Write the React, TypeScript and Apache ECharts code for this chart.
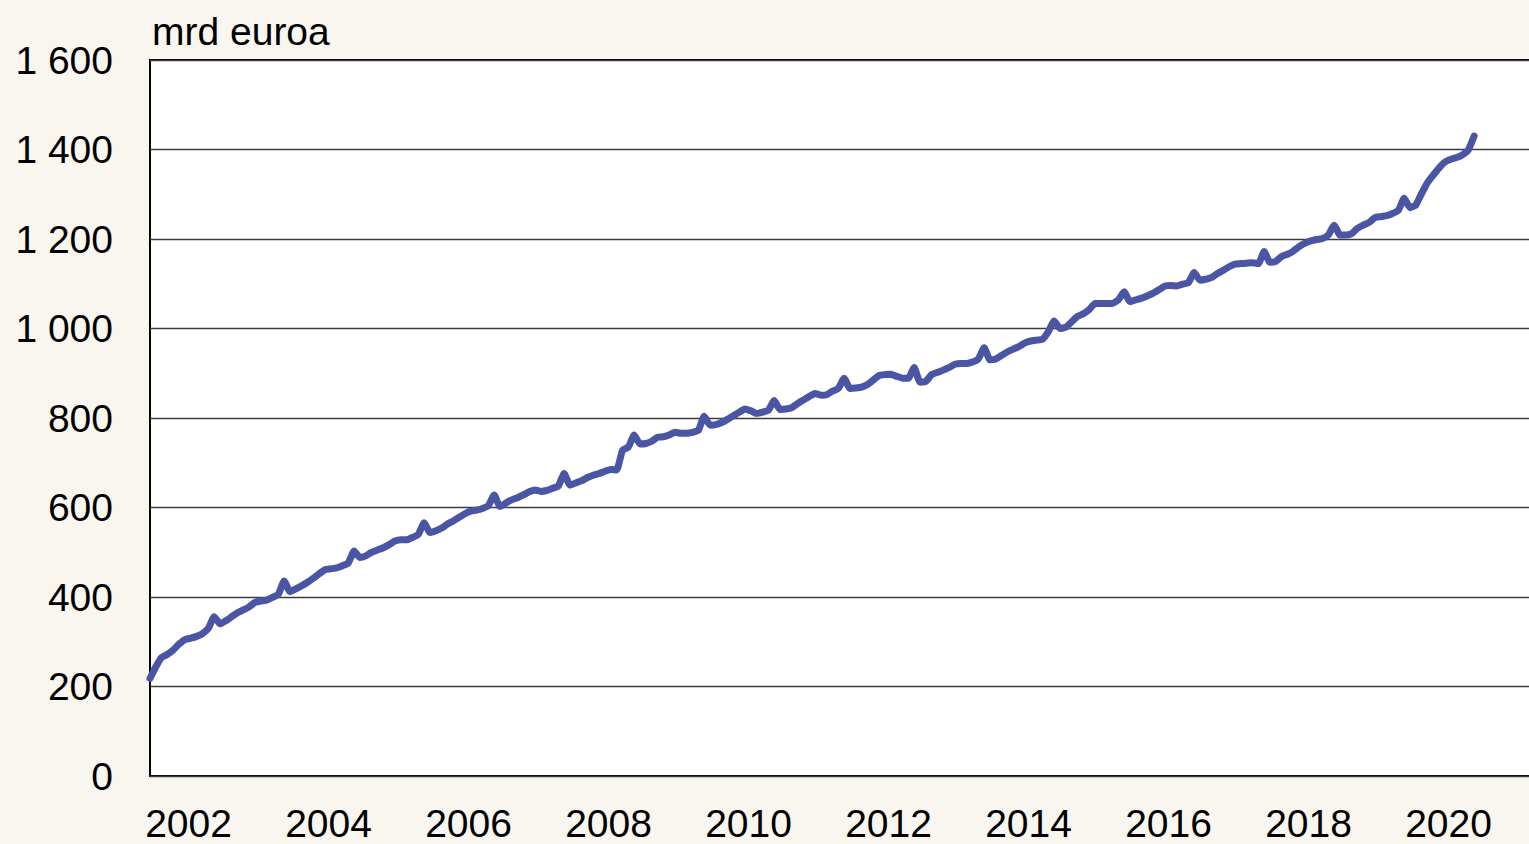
import React, { useEffect, useRef } from "react";
import * as echarts from "echarts";

// Monthly values, Jan 2002 – Dec 2020 (mrd euroa)
const v2002 = [218, 244, 265, 272, 282, 295, 305, 308, 312, 318, 330, 356];
const v2003 = [340, 347, 356, 365, 371, 378, 388, 391, 393, 399, 406, 436];
const v2004 = [412, 418, 425, 433, 442, 452, 461, 463, 465, 470, 476, 503];
const v2005 = [488, 492, 500, 505, 510, 517, 525, 528, 528, 533, 540, 566];
const v2006 = [544, 548, 554, 563, 570, 578, 586, 592, 594, 598, 604, 628];
const v2007 = [602, 610, 617, 622, 628, 635, 639, 636, 638, 643, 648, 676];
const v2008 = [650, 655, 660, 667, 672, 676, 681, 685, 684, 728, 735, 762];
const v2009 = [742, 743, 748, 757, 758, 762, 768, 766, 766, 768, 772, 804];
const v2010 = [784, 785, 790, 797, 805, 813, 820, 816, 810, 813, 817, 839];
const v2011 = [819, 820, 823, 832, 840, 848, 855, 851, 852, 860, 866, 889];
const v2012 = [866, 867, 869, 875, 885, 895, 897, 898, 893, 889, 889, 913];
const v2013 = [880, 882, 897, 902, 907, 913, 920, 922, 922, 925, 932, 957];
const v2014 = [930, 932, 940, 948, 954, 960, 968, 972, 974, 976, 993, 1017];
const v2015 = [1000, 1003, 1015, 1027, 1033, 1042, 1056, 1056, 1056, 1056, 1064, 1082];
const v2016 = [1060, 1064, 1068, 1073, 1079, 1087, 1095, 1096, 1095, 1099, 1102, 1125];
const v2017 = [1108, 1110, 1114, 1123, 1130, 1138, 1144, 1145, 1146, 1147, 1145, 1172];
const v2018 = [1148, 1150, 1161, 1166, 1173, 1183, 1191, 1196, 1199, 1201, 1209, 1231];
const v2019 = [1209, 1209, 1212, 1224, 1231, 1237, 1248, 1250, 1252, 1257, 1264, 1291];
const v2020 = [1270, 1276, 1302, 1326, 1343, 1359, 1372, 1378, 1382, 1388, 1399, 1430];

const values = [
  ...v2002, ...v2003, ...v2004, ...v2005, ...v2006, ...v2007, ...v2008,
  ...v2009, ...v2010, ...v2011, ...v2012, ...v2013, ...v2014, ...v2015,
  ...v2016, ...v2017, ...v2018, ...v2019, ...v2020,
];

const firstYear = 2002;
const months = values.map((_, i) => `${firstYear + Math.floor(i / 12)}-${String((i % 12) + 1).padStart(2, "0")}`);

// Year categories spanning the time axis (labels every second year)
const yearLabels = ["2002", "2003", "2004", "2005", "2006", "2007", "2008", "2009", "2010", "2011",
  "2012", "2013", "2014", "2015", "2016", "2017", "2018", "2019", "2020", "2021"];

const yTicks = { min: 0, max: 1600, interval: 200 };
const unitLabel = "mrd euroa";

const FONT = "'Liberation Sans', Arial, sans-serif";

export default function App() {
  const ref = useRef<HTMLDivElement>(null);

  useEffect(() => {
    if (!ref.current) return;
    const chart = echarts.init(ref.current, null, { renderer: "svg" });
    chart.setOption({
      animation: false,
      backgroundColor: "#f9f5ef",
      textStyle: { fontFamily: FONT },
      title: {
        text: unitLabel,
        left: 147,
        top: 7,
        textStyle: { fontFamily: FONT, fontSize: 39, fontWeight: "normal", color: "#000" },
      },
      grid: {
        left: 150,
        top: 60,
        width: yearLabels.length * 70,
        height: 716,
        outerBoundsMode: "none",
        containLabel: false,
        show: true,
        backgroundColor: "#ffffff",
        borderColor: "#000000",
        borderWidth: 2,
      },
      xAxis: [
        {
          type: "value",
          position: "top",
          min: 0,
          max: yearLabels.length * 12,
          show: false,
        },
        {
          type: "category",
          position: "bottom",
          data: yearLabels,
          boundaryGap: true,
          axisLine: { show: false },
          axisTick: { show: false },
          splitLine: { show: false },
          axisLabel: {
            interval: 1,
            margin: 34,
            padding: [0, 0, 0, 7],
            fontSize: 39,
            lineHeight: 26,
            fontFamily: FONT,
            color: "#000",
          },
        },
      ],
      yAxis: {
        type: "value",
        min: yTicks.min,
        max: yTicks.max,
        interval: yTicks.interval,
        axisLine: { show: false },
        axisTick: { show: false },
        splitLine: { show: true, lineStyle: { color: "#3c3c3c", width: 1.3 } },
        axisLabel: {
          margin: 37,
          fontSize: 39,
          fontFamily: FONT,
          color: "#000",
          formatter: (v: number) =>
            v >= 1000 ? `${Math.floor(v / 1000)} ${String(v % 1000).padStart(3, "0")}` : String(v),
        },
      },
      series: [
        {
          type: "line",
          xAxisIndex: 0,
          data: values.map((v, i) => [i, v, months[i]]),
          showSymbol: false,
          symbol: "none",
          smooth: 0.15,
          lineStyle: { color: "#4a55a3", width: 7, cap: "round", join: "round" },
          z: 5,
        },
      ],
    });
    return () => chart.dispose();
  }, []);

  return (
    <div
      ref={ref}
      style={{ position: "absolute", left: 0, top: 0, width: 1529, height: 844 }}
    />
  );
}
